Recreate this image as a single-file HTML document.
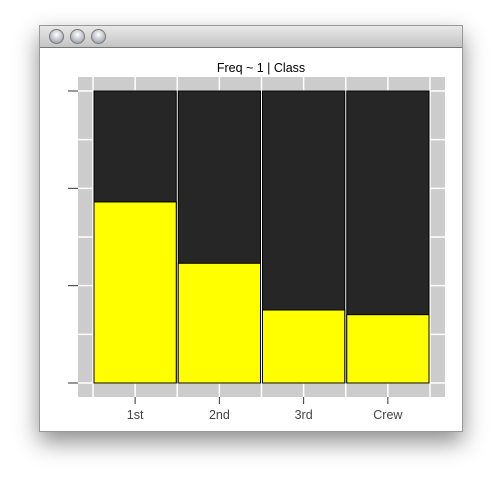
<!DOCTYPE html>
<html><head><meta charset="utf-8"><style>
body{margin:0;width:503px;height:487px;background:#fff;overflow:hidden;font-family:"Liberation Sans",sans-serif}
#win{position:absolute;left:39px;top:25px;width:424px;height:407px;background:#fff;box-shadow:0 10px 22px rgba(0,0,0,.45);border:1px solid #999;box-sizing:border-box}
#bar{position:absolute;left:0;top:0;width:100%;height:21px;background:linear-gradient(#e8e8e8,#c4c4c4);border-bottom:1px solid #777}
.btn{position:absolute;top:3px;width:13px;height:13px;border-radius:50%;background:radial-gradient(circle at 50% 35%,#fff,#b8bcc4 60%,#8a8f98);border:1px solid #777}
</style></head><body>
<div id="win">
<div id="bar">
<div class="btn" style="left:9px"></div>
<div class="btn" style="left:30px"></div>
<div class="btn" style="left:51px"></div>
</div></div>
<svg id="chart" width="503" height="487" style="position:absolute;left:0;top:0"></svg>
<script>
const categories=["1st","2nd","3rd","Crew"];
const survived=[0.62,0.41,0.25,0.234];
const yTicks=[0,1/3,2/3,1];
const svg=document.getElementById('chart');
const NS='http://www.w3.org/2000/svg';
function mk(t,a,name){const e=document.createElementNS(NS,t);for(const k in a)e.setAttribute(k,a[k]);


svg.appendChild(e);return e;}
const L=94,R=429,T=91,B=383,gap=2;
const n=categories.length,bw=(R-L-gap*(n-1))/n;
const xs=i=>L+i*(bw+gap);
const ys=v=>B-v*(B-T);
mk('rect',{x:78,y:77,width:367,height:320,fill:'#cccccc'},'plot-panel');
for(let i=0;i<=n*2;i++){const x=L-1+i*(R-L+2)/(n*2);mk('line',{x1:x,x2:x,y1:77,y2:397,stroke:'#fff','stroke-width':1.5},'grid-v');}
for(let j=0;j<=6;j++){const y=ys(j/6);mk('line',{x1:78,x2:445,y1:y,y2:y,stroke:'#fff','stroke-width':1.5},'grid-h');}
const t=mk('text',{x:261,y:72,'text-anchor':'middle','font-size':12.5,fill:'#000'},'chart-title');t.textContent='Freq ~ 1 | Class';
categories.forEach((c,i)=>{const x=xs(i);
mk('rect',{x:x,y:T,width:bw,height:B-T,fill:'#262626',stroke:'#000'},'bar-died-'+c);
mk('rect',{x:x,y:ys(survived[i]),width:bw,height:survived[i]*(B-T),fill:'#ffff00',stroke:'#000'},'bar-survived-'+c);
const cx=x+bw/2;mk('line',{x1:cx,x2:cx,y1:397,y2:404,stroke:'#333'},'x-tick');
const l=mk('text',{x:cx,y:419,'text-anchor':'middle','font-size':12.5,fill:'#444'},'x-label-'+c);l.textContent=c;});
yTicks.forEach(v=>{const y=ys(v);mk('line',{x1:68,x2:78,y1:y,y2:y,stroke:'#333'},'y-tick');});
</script>
</body></html>
